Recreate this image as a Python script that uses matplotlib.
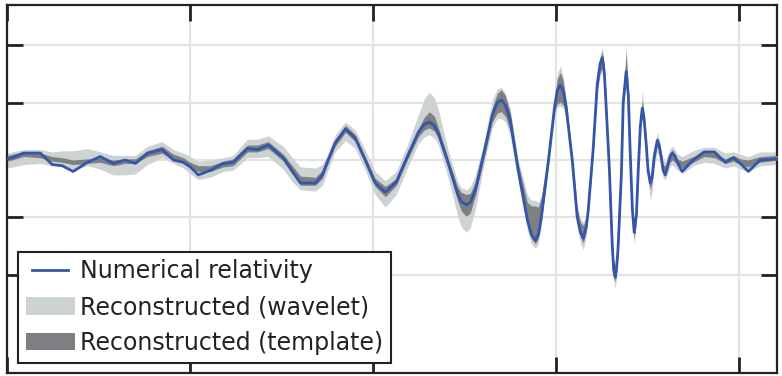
"""Numerical relativity waveform vs. the two reconstructions (strain in 1e-21)."""

import matplotlib
matplotlib.use("Agg")
import matplotlib.pyplot as plt
from matplotlib.legend_handler import HandlerLine2D
import numpy as np

# ---- data -----------------------------------------------------------------
# time in seconds, strain in units of 1e-21
time_s = [
    0.2500, 0.2514, 0.2544, 0.2590, 0.2623, 0.2650, 0.2680, 0.2719, 0.2754, 0.2790,
    0.2822, 0.2850, 0.2883, 0.2923, 0.2954, 0.2981, 0.3000, 0.3022, 0.3055, 0.3090,
    0.3117, 0.3156, 0.3183, 0.3213, 0.3254, 0.3279, 0.3301, 0.3342, 0.3361, 0.3374,
    0.3396, 0.3424, 0.3451, 0.3478, 0.3505, 0.3533, 0.3563, 0.3593, 0.3623,
    0.3639, 0.3653, 0.3667, 0.3678, 0.3705, 0.3730, 0.3740, 0.3754, 0.3765, 0.3779,
    0.3803, 0.3825, 0.3839, 0.3850, 0.3861, 0.3874, 0.3896, 0.3921, 0.3932, 0.3943, 0.3951,
    0.3959, 0.3978, 0.3995, 0.4003, 0.4011, 0.4019, 0.4027, 0.4044, 0.4057, 0.4066, 0.4074, 0.4082,
    0.4087, 0.4101, 0.4112, 0.4120, 0.4126, 0.4131, 0.4134, 0.4145, 0.4153, 0.4157, 0.4161, 0.4165,
    0.4169, 0.4178,
    0.4183, 0.4191, 0.4197, 0.4202, 0.4208, 0.4213, 0.4219, 0.4224, 0.4230, 0.4235,
    0.4240, 0.4246, 0.4251, 0.4257, 0.4262, 0.4268, 0.4276, 0.4281, 0.4287, 0.4292,
    0.4298, 0.4306, 0.4311, 0.4317, 0.4325, 0.4331, 0.4339, 0.4344, 0.4374, 0.4404,
    0.4432, 0.4462, 0.4484, 0.4503, 0.4525, 0.4557, 0.4604,
]

# numerical relativity strain
nr_strain = [
    0.01, 0.02, 0.06, 0.06, -0.04, -0.05, -0.10, -0.02, 0.03, -0.03,
    0.00, -0.03, 0.06, 0.09, 0.00, -0.02, -0.06, -0.13, -0.09, -0.03,
    -0.02, 0.10, 0.09, 0.13, 0.02, -0.10, -0.20, -0.20, -0.13, -0.02,
    0.15, 0.27, 0.19, 0.00, -0.20, -0.28, -0.19, 0.03, 0.24,
    0.31, 0.33, 0.30, 0.23, -0.03, -0.29, -0.36, -0.39, -0.37, -0.26,
    0.07, 0.39, 0.50, 0.52, 0.48, 0.35, -0.09, -0.52, -0.65, -0.70, -0.65,
    -0.50, -0.02, 0.45, 0.61, 0.65, 0.60, 0.46, -0.01, -0.49, -0.63, -0.68, -0.58,
    -0.45, 0.10, 0.66, 0.84, 0.89, 0.77, 0.61, -0.07, -0.74, -0.96, -1.02, -0.94,
    -0.76, -0.12,
    0.50, 0.77, 0.56, 0.07, -0.43, -0.63, -0.48, -0.09, 0.30, 0.45,
    0.36, 0.13, -0.10, -0.20, -0.15, 0.04, 0.17, 0.13, 0.02, -0.09,
    -0.13, -0.03, 0.03, 0.06, 0.03, -0.02, -0.07, -0.10, 0.00, 0.07,
    0.07, -0.02, 0.02, -0.03, -0.10, 0.00, 0.01,
]

# wavelet band: distance above / below the NR curve
wavelet_up = [
    0.05, 0.05, 0.03, 0.03, 0.11, 0.13, 0.18, 0.12, 0.04, 0.07,
    0.04, 0.07, 0.06, 0.07, 0.09, 0.08, 0.09, 0.12, 0.09, 0.05,
    0.06, 0.08, 0.09, 0.08, 0.10, 0.12, 0.14, 0.13, 0.09, 0.06,
    0.07, 0.06, 0.07, 0.09, 0.10, 0.10, 0.09, 0.10, 0.15,
    0.22, 0.26, 0.24, 0.21, 0.11, 0.11, 0.12, 0.13, 0.14, 0.13,
    0.09, 0.13, 0.12, 0.11, 0.10, 0.09, 0.09, 0.22, 0.30, 0.35, 0.28,
    0.19, 0.09, 0.10, 0.14, 0.17, 0.13, 0.08, 0.05, 0.10, 0.12, 0.14, 0.10,
    0.06, 0.05, 0.08, 0.08, 0.09, 0.07, 0.05, 0.05, 0.06, 0.10, 0.13, 0.10,
    0.06, 0.05,
    0.06, 0.23, 0.07, 0.05, 0.05, 0.07, 0.06, 0.05, 0.07, 0.16,
    0.08, 0.06, 0.06, 0.07, 0.08, 0.08, 0.07, 0.06, 0.07, 0.09,
    0.11, 0.09, 0.07, 0.06, 0.06, 0.07, 0.11, 0.13, 0.08, 0.04,
    0.04, 0.08, 0.05, 0.08, 0.13, 0.07, 0.06,
]
wavelet_down = [
    0.08, 0.08, 0.10, 0.09, 0.01, 0.00, -0.01, 0.03, 0.11, 0.10,
    0.13, 0.09, 0.10, 0.07, 0.03, 0.05, 0.06, 0.04, 0.06, 0.07,
    0.07, 0.08, 0.07, 0.10, 0.10, 0.09, 0.06, 0.07, 0.09, 0.09,
    0.08, 0.10, 0.09, 0.09, 0.10, 0.13, 0.11, 0.10, 0.10,
    0.11, 0.11, 0.11, 0.10, 0.13, 0.19, 0.22, 0.24, 0.22, 0.17,
    0.10, 0.11, 0.14, 0.16, 0.15, 0.14, 0.09, 0.09, 0.08, 0.07, 0.08,
    0.08, 0.07, 0.09, 0.15, 0.18, 0.15, 0.11, 0.06, 0.08, 0.09, 0.10, 0.08,
    0.07, 0.06, 0.08, 0.11, 0.12, 0.10, 0.07, 0.05, 0.06, 0.09, 0.10, 0.08,
    0.06, 0.05,
    0.05, 0.11, 0.07, 0.05, 0.06, 0.11, 0.06, 0.05, 0.05, 0.09,
    0.08, 0.07, 0.09, 0.15, 0.13, 0.10, 0.10, 0.10, 0.09, 0.07,
    0.04, 0.07, 0.09, 0.10, 0.10, 0.07, 0.03, 0.02, 0.05, 0.09,
    0.10, 0.05, 0.07, 0.05, 0.00, 0.05, 0.05,
]

# template band: distance above / below the NR curve
template_up = [
    0.03, 0.03, 0.01, 0.00, 0.07, 0.07, 0.10, 0.03, -0.01, 0.03,
    0.01, 0.04, 0.02, 0.03, 0.05, 0.04, 0.04, 0.08, 0.04, 0.02,
    0.03, 0.03, 0.04, 0.03, 0.03, 0.05, 0.06, 0.05, 0.04, 0.03,
    0.03, 0.03, 0.03, 0.03, 0.04, 0.05, 0.03, 0.03, 0.03,
    0.06, 0.09, 0.08, 0.05, 0.04, 0.06, 0.08, 0.09, 0.08, 0.07,
    0.04, 0.06, 0.08, 0.09, 0.08, 0.07, 0.06, 0.15, 0.25, 0.30, 0.24,
    0.17, 0.05, 0.07, 0.10, 0.11, 0.09, 0.06, 0.03, 0.07, 0.09, 0.11, 0.07,
    0.04, 0.03, 0.05, 0.05, 0.05, 0.05, 0.03, 0.03, 0.04, 0.08, 0.10, 0.08,
    0.04, 0.03,
    0.04, 0.17, 0.05, 0.03, 0.03, 0.04, 0.04, 0.03, 0.05, 0.07,
    0.04, 0.03, 0.03, 0.04, 0.05, 0.04, 0.03, 0.03, 0.04, 0.05,
    0.08, 0.05, 0.03, 0.03, 0.02, 0.03, 0.07, 0.09, 0.03, 0.00,
    -0.01, 0.03, 0.02, 0.04, 0.10, 0.03, 0.03,
]
template_down = [
    0.02, 0.02, 0.03, 0.04, -0.03, -0.03, -0.06, 0.01, 0.05, 0.02,
    0.03, 0.00, 0.03, 0.03, 0.00, 0.01, 0.01, -0.03, 0.01, 0.03,
    0.03, 0.03, 0.02, 0.03, 0.03, 0.02, 0.02, 0.02, 0.03, 0.03,
    0.03, 0.03, 0.03, 0.03, 0.03, 0.04, 0.03, 0.03, 0.04,
    0.05, 0.05, 0.05, 0.04, 0.04, 0.06, 0.08, 0.10, 0.09, 0.05,
    0.05, 0.06, 0.09, 0.10, 0.10, 0.09, 0.05, 0.04, 0.03, 0.03, 0.03,
    0.04, 0.03, 0.03, 0.12, 0.15, 0.12, 0.07, 0.04, 0.05, 0.04, 0.04, 0.04,
    0.03, 0.03, 0.05, 0.08, 0.09, 0.07, 0.05, 0.03, 0.04, 0.04, 0.04, 0.04,
    0.04, 0.03,
    0.03, 0.07, 0.05, 0.03, 0.04, 0.06, 0.03, 0.03, 0.03, 0.06,
    0.05, 0.04, 0.05, 0.06, 0.04, 0.04, 0.05, 0.04, 0.03, 0.03,
    0.01, 0.03, 0.05, 0.06, 0.05, 0.03, -0.02, -0.03, 0.02, 0.04,
    0.05, 0.01, 0.03, 0.01, -0.04, 0.02, 0.01,
]

x_ticks = [0.25, 0.30, 0.35, 0.40, 0.45]
y_ticks = [-1.0, -0.5, 0.0, 0.5, 1.0]

labels = ["Numerical relativity",
          "Reconstructed (wavelet)",
          "Reconstructed (template)"]

NR_COLOR = "#3556a8"
WAVELET_COLOR = "#cdd3d3"
TEMPLATE_COLOR = "#7d7f82"
INK = "#222222"

n = len(time_s)
assert all(len(a) == n for a in (nr_strain, wavelet_up, wavelet_down,
                                 template_up, template_down))


class ShortLineHandler(HandlerLine2D):
    """Legend line a bit shorter than the patch swatches, centred on them."""

    def create_artists(self, legend, orig_handle, xdescent, ydescent,
                       width, height, fontsize, trans):
        pad = 0.13 * width
        return super().create_artists(legend, orig_handle, xdescent - pad,
                                      ydescent, width - 2 * pad, height,
                                      fontsize, trans)


# ---- draw -------------------------------------------------------------------
t = np.array(time_s)
h = np.array(nr_strain)

fig = plt.figure(figsize=(7.82, 3.76), dpi=100)
ax = fig.add_axes([7.3 / 782, 3.3 / 376, 770 / 782, 367.7 / 376])

wav = ax.fill_between(t, h - np.array(wavelet_down), h + np.array(wavelet_up),
                      color=WAVELET_COLOR, linewidth=0, zorder=2)
tmp = ax.fill_between(t, h - np.array(template_down), h + np.array(template_up),
                      color=TEMPLATE_COLOR, linewidth=0, zorder=3)
line, = ax.plot(t, h, color=NR_COLOR, linewidth=2.0, zorder=4,
                solid_joinstyle="round")

ax.set_xlim(0.25, 0.4604)
ax.set_ylim(-1.85, 1.348)
ax.set_xticks(x_ticks)
ax.set_yticks(y_ticks)
ax.set_xticklabels([])
ax.set_yticklabels([])
ax.tick_params(direction="in", length=11.5, width=2, color=INK,
               top=True, right=True)

ax.grid(True, color="#e2e4e4", linewidth=1.6)
ax.set_axisbelow(True)
for spine in ax.spines.values():
    spine.set_color(INK)
    spine.set_linewidth(1.6)

leg = ax.legend([line, wav, tmp], labels,
                loc="lower left", bbox_to_anchor=(0.0143, 0.027),
                borderaxespad=0, fontsize=17, fancybox=False,
                framealpha=1, edgecolor=INK, handlelength=2.05,
                handleheight=0.75, handletextpad=0.25, labelspacing=0.5,
                borderpad=0.33, handler_map={line: ShortLineHandler()})
leg.get_frame().set_linewidth(1.5)
for txt in leg.get_texts():
    txt.set_color(INK)

fig.savefig("out.png", dpi=100)
